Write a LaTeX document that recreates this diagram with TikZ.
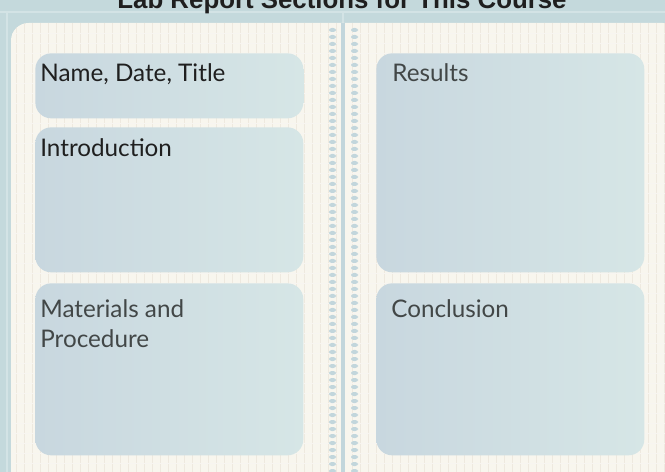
\documentclass[tikz,border=0pt]{standalone}
\usepackage{fontspec}
\setmainfont{Lato}
\newfontfamily\titlefont{Liberation Sans}
\usetikzlibrary{positioning}
\definecolor{deskbg}{HTML}{C4D9DC}
\definecolor{paper}{HTML}{F8F6EE}
\definecolor{paperline}{HTML}{EEE9DF}
\definecolor{frameline}{HTML}{D3E3E5}
\definecolor{boxleft}{HTML}{C8D7DF}
\definecolor{boxright}{HTML}{D6E6E6}
\definecolor{ring}{HTML}{C2D6DC}
\definecolor{inkdark}{HTML}{1F1F1F}
\definecolor{inkgrey}{HTML}{424747}

\begin{document}
\begin{tikzpicture}[x=0.02cm,y=-0.02cm,
section/.style={draw=none, rounded corners=9, left color=boxleft, right color=boxright,
    anchor=north west, inner sep=0pt, minimum width=5.36cm},
sectext/.style={anchor=base west, inner sep=0pt,
    font=\fontsize{13.8}{17.6}\selectfont, text=inkgrey},
hook/.style={fill=ring, rounded corners=1.5}]
\clip (0,0) rectangle (665,472);
\fill[deskbg] (0,0) rectangle (665,472);
\draw[frameline, line width=0.6pt] (7,12) -- (7,472) (0,12) -- (665,12) (343,12) -- (343,24);
% notebook page
\fill[paper, rounded corners=10] (11,480) -- (11,23) -- (680,23) -- (680,480);
\begin{scope}
\clip[rounded corners=10] (11,480) -- (11,23) -- (680,23) -- (680,480);
\foreach \x in {16,24,...,665}
  \draw[paperline, line width=0.4pt] (\x,23) -- (\x,472);
\foreach \y in {33,43,...,472}
  \draw[paperline!45, line width=0.3pt] (11,\y) -- (665,\y);
\end{scope}
% binding
\foreach \y in {28,35,...,470} {
  \fill[hook] (329,\y) rectangle (336,\y+4);
  \fill[hook] (351,\y) rectangle (358,\y+4);
}
\draw[ring, line width=1.8pt] (343,23) -- (343,472);
% title
\node[anchor=base, inner sep=0pt, text=inkdark,
  font=\titlefont\bfseries\fontsize{14.7}{16}\selectfont] (title) at (342,9)
  {Lab Report Sections for This Course};
% section boxes
\node[section, minimum height=1.30cm] (name) at (35,53) {};
\node[section, minimum height=2.90cm] (intro) at (35,127) {};
\node[section, minimum height=4.38cm] (results) at (376,53) {};
\node[section, minimum height=3.44cm] (materials) at (35,283) {};
\node[section, minimum height=3.44cm] (conclusion) at (376,283) {};
% section titles
\node[sectext, text=inkdark] (nametext) at (40,82) {Name, Date, Title};
\node[sectext, text=inkdark] (introtext) at (40,157) {Introduction};
\node[sectext] (resultstext) at (392,82) {Results};
\node[sectext] (materialstext) at (40,317) {Materials and};
\node[sectext] (proceduretext) at (40,348) {Procedure};
\node[sectext] (conclusiontext) at (391,317) {Conclusion};
\end{tikzpicture}
\end{document}
